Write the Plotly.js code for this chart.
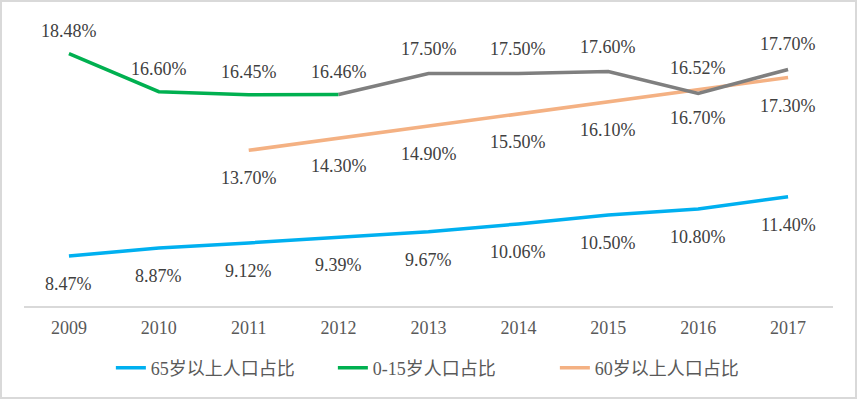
<!DOCTYPE html>
<html><head><meta charset="utf-8">
<script src="https://cdn.plot.ly/plotly-3.0.1.min.js"></script>
<style>html,body{margin:0;padding:0;background:#fff}#c{width:857px;height:399px;box-sizing:border-box;border:2px solid #d9d9d9}</style>
</head><body><div id="c"></div>
<script>
const years = ['2009','2010','2011','2012','2013','2014','2015','2016','2017'];
const age65 = [8.47,8.87,9.12,9.39,9.67,10.06,10.50,10.80,11.40];
const age015Years = ['2009','2010','2011','2012'];
const age015 = [18.48,16.60,16.45,16.46];
const age015LaterYears = ['2012','2013','2014','2015','2016','2017'];
const age015Later = [16.46,17.50,17.50,17.60,16.52,17.70];
const age60Years = ['2011','2012','2013','2014','2015','2016','2017'];
const age60 = [13.70,14.30,14.90,15.50,16.10,16.70,17.30];

const fontFam = '"Liberation Serif","Times New Roman","Noto Sans CJK SC",serif';
const legFam = '"Liberation Serif","Noto Sans CJK SC",serif';
const txtColor = '#404040';
function line(x,y,color,name,show){
  return {x:x,y:y,type:'scatter',mode:'lines',name:name,showlegend:show,
    line:{color:color,width:3.5},hoverinfo:'skip'};
}
const traces = [
  line(years,age65,'#00B0F0','65岁以上人口占比',true),
  line(age015Years,age015,'#00B050','0-15岁人口占比',true),
  line(age60Years,age60,'#F4B183','60岁以上人口占比',true),
  line(age015LaterYears,age015Later,'#7F7F7F','',false)
];
const ann = [];
function addLabels(x,y,shift){
  x.forEach((xv,i)=>ann.push({x:years.indexOf(xv),y:y[i],xref:'x',yref:'y',text:y[i].toFixed(2)+'%',
    showarrow:false,yshift:shift,font:{family:fontFam,size:18,color:txtColor}}));
}
addLabels(years,age65,-28);
addLabels(age015Years,age015,23);
addLabels(age015LaterYears.slice(1),age015Later.slice(1),25);
addLabels(age60Years,age60,-28);

const layout = {
  width:853,height:395,
  margin:{l:22,r:22,t:21,b:90},
  paper_bgcolor:'#fff',plot_bgcolor:'#fff',
  xaxis:{type:'category',categoryorder:'array',categoryarray:years,range:[-0.5,8.5],
    showline:true,linecolor:'#d9d9d9',linewidth:1.5,showgrid:false,zeroline:false,ticks:'',
    ticklabelstandoff:5,
    tickfont:{family:fontFam,size:18,color:'#595959'}},
  yaxis:{range:[6,20],visible:false,showgrid:false,zeroline:false},
  showlegend:true,
  legend:{orientation:'h',x:0.519,xanchor:'center',y:-0.215,yanchor:'middle',
    entrywidth:177,entrywidthmode:'pixels',
    font:{family:legFam,size:18,color:'#595959'}},
  annotations:ann,
  hovermode:false
};
Plotly.newPlot('c',traces,layout,{displayModeBar:false,staticPlot:true});
</script></body></html>
